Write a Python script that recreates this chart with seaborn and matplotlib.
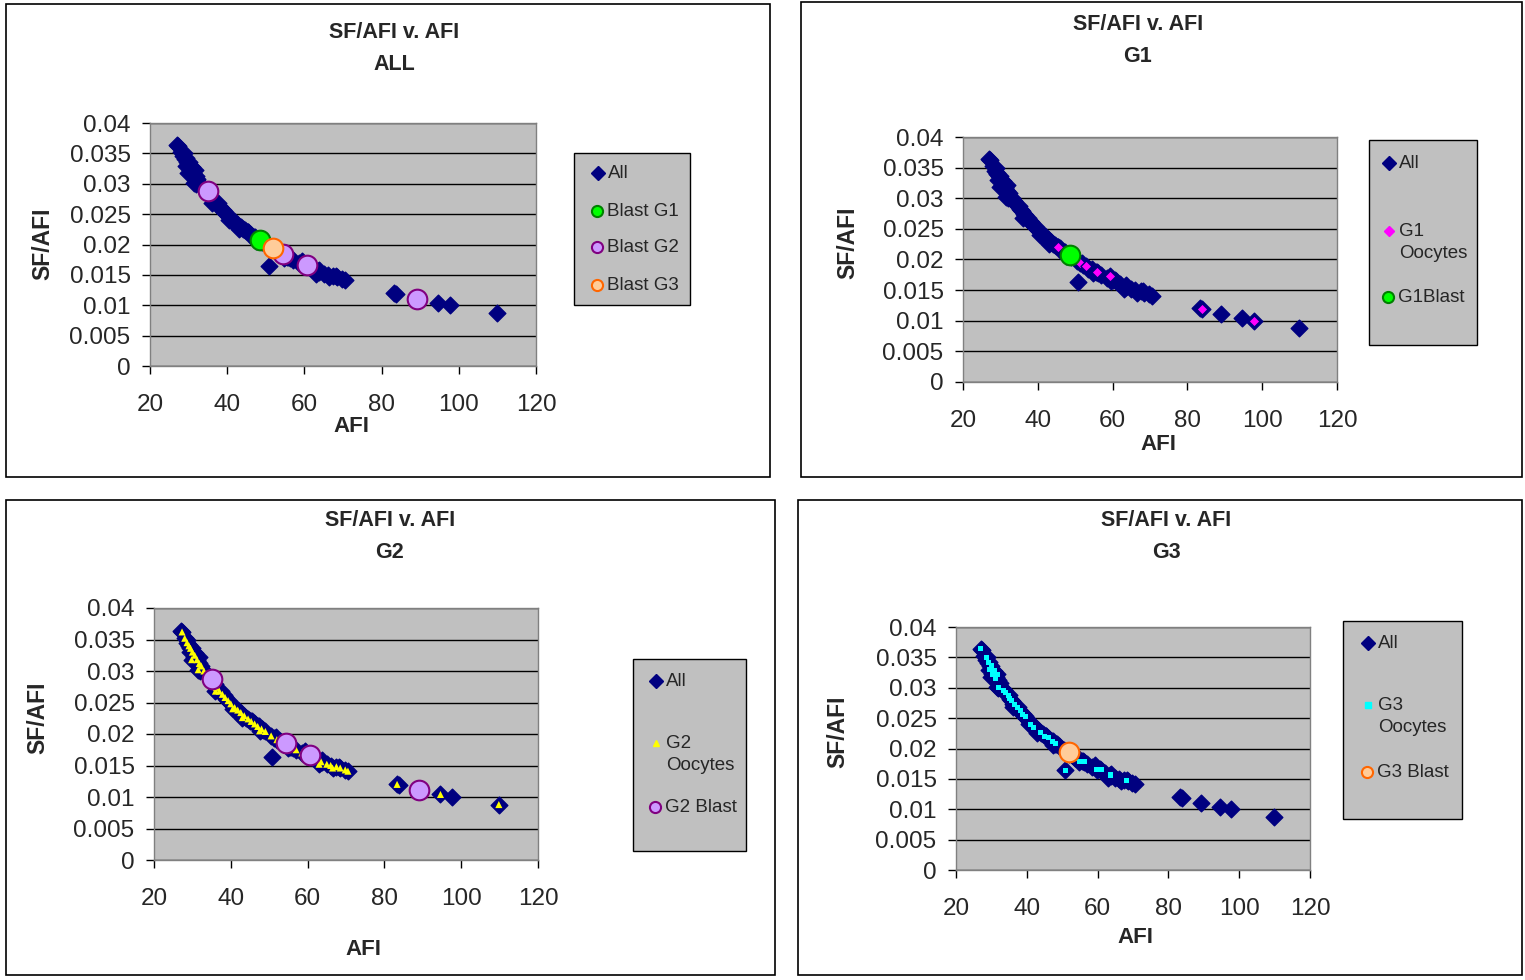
import matplotlib
matplotlib.use("Agg")
import matplotlib.pyplot as plt
from matplotlib.lines import Line2D
from matplotlib.patches import Rectangle
from matplotlib.ticker import FuncFormatter, MultipleLocator
import seaborn as sns

# ---------------- data ----------------
g1_afi = [45.4, 51.3, 52.9, 55.8, 59.3, 83.8, 97.7]
g1_ratio = [0.0220, 0.0194, 0.0189, 0.0180, 0.0173, 0.0119, 0.0100]
g1_blast_afi = [48.5]
g1_blast_ratio = [0.0207]

g2_afi = [27.3, 28.0, 28.6, 29.1, 29.5, 29.8, 30.0, 30.6, 31.2, 31.5,
          31.8, 32.3, 33.0, 33.6, 34.2, 35.5, 36.0, 36.2, 37.0, 37.8,
          38.5, 39.3, 40.0, 40.5, 41.0, 41.8, 42.6, 43.0, 43.5, 44.5,
          45.3, 46.2, 47.0, 47.5, 48.0, 49.0, 50.5, 52.0, 53.5, 55.5,
          57.0, 58.5, 60.0, 62.0, 63.0, 63.5, 65.0, 66.0, 66.5, 67.5,
          68.5, 69.8, 70.5, 83.3, 94.6, 109.8]
g2_ratio = [0.0362, 0.0352, 0.0345, 0.0340, 0.0336, 0.0318, 0.0330, 0.0325, 0.0318, 0.0302,
            0.0312, 0.0308, 0.0300, 0.0295, 0.0290, 0.0280, 0.0268, 0.0274, 0.0268, 0.0263,
            0.0258, 0.0253, 0.0248, 0.0240, 0.0242, 0.0238, 0.0234, 0.0226, 0.0229, 0.0224,
            0.0220, 0.0216, 0.0212, 0.0205, 0.0208, 0.0204, 0.0197, 0.0191, 0.0186, 0.0180,
            0.0175, 0.0170, 0.0166, 0.0160, 0.0152, 0.0156, 0.0152, 0.0150, 0.0146, 0.0148,
            0.0146, 0.0143, 0.0141, 0.0120, 0.0104, 0.0088]
g2_blast_afi = [35.0, 54.5, 60.7, 89.1]
g2_blast_ratio = [0.0288, 0.0185, 0.0166, 0.0111]

g3_afi = [27.0, 28.7, 29.2, 29.4, 30.0, 30.3, 30.8, 31.2, 31.7, 32.0,
          33.5, 34.0, 34.8, 35.2, 35.8, 36.5, 37.5, 38.2, 38.8, 39.5,
          41.0, 42.0, 44.0, 45.0, 46.0, 47.3, 48.2, 50.8, 53.5, 54.8,
          56.2, 59.7, 61.0, 63.7, 63.7, 68.2]
g3_ratio = [0.0364, 0.0350, 0.0342, 0.0330, 0.0336, 0.0322, 0.0328, 0.0316, 0.0322, 0.0300,
            0.0296, 0.0292, 0.0288, 0.0282, 0.0279, 0.0272, 0.0268, 0.0262, 0.0256, 0.0253,
            0.0240, 0.0234, 0.0226, 0.0220, 0.0218, 0.0212, 0.0208, 0.0164, 0.0184, 0.0178,
            0.0178, 0.0165, 0.0165, 0.0158, 0.0155, 0.0148]
g3_blast_afi = [51.8]
g3_blast_ratio = [0.0195]

all_afi = g1_afi + g1_blast_afi + g2_afi + g2_blast_afi + g3_afi + g3_blast_afi
all_ratio = g1_ratio + g1_blast_ratio + g2_ratio + g2_blast_ratio + g3_ratio + g3_blast_ratio

x_ticks = [20, 40, 60, 80, 100, 120]
title_main = "SF/AFI v. AFI"

# ---------------- styling ----------------
sns.set_style("white")
plt.rcParams['font.family'] = ['Liberation Sans', 'DejaVu Sans']

W, H = 1525, 980
fig = plt.figure(figsize=(W / 100, H / 100), dpi=100)

NAVY = "#000080"
GRAY_BG = "#C0C0C0"
FRAME = "#808080"

STY = {
    "all": dict(marker="D", s=72, color=NAVY, edgecolor=NAVY, linewidth=1.0),
    "g1o": dict(marker="D", s=32, color="#FF00FF", edgecolor=NAVY, linewidth=1.0),
    "g2o": dict(marker="^", s=26, color="#FFFF00", edgecolor="none", linewidth=0),
    "g3o": dict(marker="s", s=13, color="#00FFFF", edgecolor="none", linewidth=0),
    "g1b": dict(marker="o", s=200, color="#00FF00", edgecolor="#008000", linewidth=1.5),
    "g2b": dict(marker="o", s=200, color="#CC99FF", edgecolor="#800080", linewidth=1.5),
    "g3b": dict(marker="o", s=200, color="#FFCC99", edgecolor="#FF6600", linewidth=1.5),
}
LEG = {
    "all": dict(marker="D", markersize=7, markerfacecolor=NAVY, markeredgecolor=NAVY),
    "g1o": dict(marker="D", markersize=5.5, markerfacecolor="#FF00FF", markeredgecolor="#FF00FF"),
    "g2o": dict(marker="^", markersize=5, markerfacecolor="#FFFF00", markeredgecolor="#FFFF00"),
    "g3o": dict(marker="s", markersize=4, markerfacecolor="#00FFFF", markeredgecolor="#00FFFF"),
    "g1b": dict(marker="o", markersize=8, markerfacecolor="#00FF00", markeredgecolor="#008000", markeredgewidth=1.5),
    "g2b": dict(marker="o", markersize=8, markerfacecolor="#CC99FF", markeredgecolor="#800080", markeredgewidth=1.5),
    "g3b": dict(marker="o", markersize=8, markerfacecolor="#FFCC99", markeredgecolor="#FF6600", markeredgewidth=1.5),
}
DATA = {
    "all": (all_afi, all_ratio),
    "g1o": (g1_afi, g1_ratio),
    "g2o": (g2_afi, g2_ratio),
    "g3o": (g3_afi, g3_ratio),
    "g1b": (g1_blast_afi, g1_blast_ratio),
    "g2b": (g2_blast_afi, g2_blast_ratio),
    "g3b": (g3_blast_afi, g3_blast_ratio),
}


def fx(px):
    return px / W


def fy(py):
    return 1 - py / H


def panel(border, axbox, legbox, title2, title_xy, ylab_xy, xlab_xy, series, legend_items):
    bx0, by0, bx1, by1 = border
    fig.patches.append(Rectangle((fx(bx0), fy(by1)), (bx1 - bx0) / W, (by1 - by0) / H,
                                 transform=fig.transFigure, fill=False,
                                 edgecolor="black", linewidth=1.2, zorder=0))
    x0, y0, x1, y1 = axbox
    ax = fig.add_axes([fx(x0), fy(y1), (x1 - x0) / W, (y1 - y0) / H])
    ax.set_facecolor(GRAY_BG)
    for key in series:
        xs, ys = DATA[key]
        sns.scatterplot(x=xs, y=ys, ax=ax, legend=False, zorder=3, **STY[key])
    ax.set_xlim(20, 120)
    ax.set_ylim(0, 0.04)
    ax.set_xticks(x_ticks)
    ax.yaxis.set_major_locator(MultipleLocator(0.005))
    ax.yaxis.set_major_formatter(FuncFormatter(lambda v, p: "%g" % round(v, 4)))
    ax.grid(axis="y", color="black", linewidth=1.0, zorder=1)
    ax.grid(axis="x", visible=False)
    ax.set_axisbelow(True)
    for sp in ax.spines.values():
        sp.set_color(FRAME)
        sp.set_linewidth(1.0)
        sp.set_visible(True)
    ax.tick_params(axis="both", direction="out", length=6, width=1, color="black",
                   labelsize=17.5, bottom=True, left=True)
    ax.tick_params(axis="y", pad=8)
    ax.tick_params(axis="x", pad=14)
    ax.set_xlabel("")
    ax.set_ylabel("")

    tx, ty1, ty2 = title_xy
    fig.text(fx(tx), fy(ty1), title_main, ha="center", va="center",
             fontsize=15.5, fontweight="bold")
    fig.text(fx(tx), fy(ty2), title2, ha="center", va="center",
             fontsize=15.5, fontweight="bold")
    fig.text(fx(ylab_xy[0]), fy(ylab_xy[1]), "SF/AFI", rotation=90, ha="center",
             va="center", fontsize=16.5, fontweight="bold")
    fig.text(fx(xlab_xy[0]), fy(xlab_xy[1]), "AFI", ha="center", va="center",
             fontsize=16, fontweight="bold")

    lx0, ly0, lx1, ly1 = legbox
    fig.patches.append(Rectangle((fx(lx0), fy(ly1)), (lx1 - lx0) / W, (ly1 - ly0) / H,
                                 transform=fig.transFigure, facecolor=GRAY_BG,
                                 edgecolor="black", linewidth=1.0, zorder=1))
    for key, label, mx, my in legend_items:
        fig.add_artist(Line2D([fx(mx)], [fy(my)], transform=fig.transFigure,
                              linestyle="none", zorder=3, **LEG[key]))
        lines = label.split("\n")
        for i, ln in enumerate(lines):
            fig.text(fx(mx + 10), fy(my + i * 22), ln, ha="left", va="center",
                     fontsize=13.5, zorder=3)
    return ax


panel((6, 4, 770, 477), (150, 123, 536, 366), (574, 153, 690, 305), "ALL",
      (394, 32, 64), (43, 244), (351, 426),
      ["all", "g1b", "g2b", "g3b"],
      [("all", "All", 598, 173), ("g1b", "Blast G1", 597, 211),
       ("g2b", "Blast G2", 597, 247), ("g3b", "Blast G3", 597, 285)])

panel((801, 2, 1522, 477), (963, 137, 1337, 382), (1369, 140, 1477, 345), "G1",
      (1138, 24, 56), (848, 243), (1158, 445),
      ["all", "g1o", "g1b"],
      [("all", "All", 1389, 163), ("g1o", "G1\nOocytes", 1389, 231),
       ("g1b", "G1Blast", 1388, 297)])

panel((6, 500, 775, 975), (154, 608, 538, 860), (633, 659, 746, 851), "G2",
      (390, 520, 552), (38, 718), (363, 949),
      ["all", "g2o", "g2b"],
      [("all", "All", 656, 681), ("g2o", "G2\nOocytes", 656, 743),
       ("g2b", "G2 Blast", 655, 807)])

panel((798, 500, 1522, 975), (956, 627, 1310, 870), (1343, 621, 1462, 819), "G3",
      (1166, 520, 552), (838, 732), (1135, 937),
      ["all", "g3o", "g3b"],
      [("all", "All", 1368, 643), ("g3o", "G3\nOocytes", 1368, 705),
       ("g3b", "G3 Blast", 1367, 772)])

fig.savefig("out.png", dpi=100, facecolor="white")
